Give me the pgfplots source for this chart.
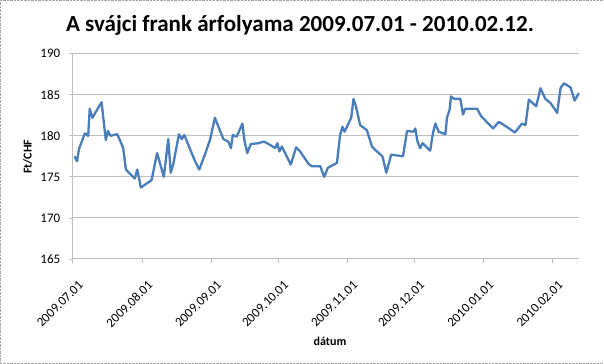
\documentclass[border=0pt]{standalone}
\usepackage{pgfplots}
\pgfplotsset{compat=1.18}
\usepackage{fontspec}
\setmainfont{Carlito}
\definecolor{linecol}{RGB}{74,126,187}
\definecolor{gridcol}{RGB}{190,190,190}
\begin{document}
\begin{tikzpicture}[x=1pt,y=1pt]
\draw[gray!70, densely dotted] (0.5,0.5) rectangle (603.5,363.5);
\node[font=\fontsize{23}{26}\selectfont\bfseries] at (300,338) {A svájci frank árfolyama 2009.07.01 - 2010.02.12.};
\node[font=\fontsize{12}{14}\selectfont\bfseries, rotate=90] at (28,207) {Ft/CHF};
\node[font=\fontsize{12}{14}\selectfont\bfseries] at (330,23) {dátum};
\begin{axis}[
  at={(73pt,105pt)}, anchor=south west,
  scale only axis, width=506pt, height=205pt,
  xmin=0, xmax=227, ymin=165, ymax=190,
  ytick={165,170,...,190},
  xtick={0,31,62,92,123,153,184,215},
  xticklabels={2009.07.01,2009.08.01,2009.09.01,2009.10.01,2009.11.01,2009.12.01,2010.01.01,2010.02.01},
  axis x line=bottom, axis y line=left,
  axis line style={-, draw=gridcol, line width=1pt},
  tick style={draw=gridcol, line width=0.8pt},
  tick align=outside, major tick length=4pt,
  ymajorgrids, grid style={draw=gridcol, line width=1pt},
  ticklabel style={font=\fontsize{13}{15}\selectfont},
  /pgf/number format/assume math mode=true,
  yticklabel style={xshift=-5pt},
  xticklabel style={xshift=5pt, yshift=-12pt, rotate=45, anchor=north east},
  clip=false,
]
\addplot[color=linecol, line width=2.3pt, line join=round] coordinates {
(0.8,177.5) (1.9,176.9) (2.8,178.4) (5.4,180.3) (6.9,180.0) (7.6,183.3) (8.8,182.2)
(12.9,184.1) (14.8,179.5) (15.8,180.6) (16.9,180.0) (19.9,180.2) (21.1,179.5)
(22.6,178.5) (23.8,175.9) (27.8,174.8) (28.9,175.9) (30.5,173.7) (35.3,174.6)
(37.8,177.9) (40.8,175.0) (42.8,179.6) (43.9,175.5) (45.0,176.5) (47.6,180.2)
(48.8,179.6) (50.0,180.1) (54.8,176.9) (56.7,175.9) (59.2,177.7) (61.5,179.5)
(63.7,182.2) (67.5,179.6) (69.7,179.3) (70.9,178.5) (71.7,180.1) (73.5,179.9)
(76.0,181.5) (76.9,179.5) (78.2,177.9) (79.8,179.0) (83.2,179.1) (85.7,179.3)
(88.4,178.9) (90.7,178.5) (91.7,179.1) (92.6,178.1) (93.7,178.7) (97.7,176.5)
(100.1,178.6) (101.9,178.1) (105.6,176.6) (107.1,176.3) (110.9,176.3) (112.7,175.0)
(114.3,176.1) (118.4,176.7) (119.8,180.1) (120.9,181.1) (121.8,180.5) (124.8,182.2)
(125.8,184.5) (126.9,183.6) (128.8,181.3) (131.8,180.7) (134.1,178.7) (135.5,178.3)
(138.8,177.5) (140.5,175.5) (142.7,177.7) (145.7,177.6) (148.0,177.5) (149.8,180.6)
(152.7,180.5) (153.5,180.9) (154.5,179.3) (155.7,178.5) (156.8,179.1) (160.2,178.2)
(161.4,180.3) (162.5,181.5) (164.0,180.5) (167.0,180.2) (167.7,182.2) (168.9,183.2)
(169.5,184.8) (171.0,184.5) (173.7,184.5) (174.9,182.6) (175.9,183.3) (181.2,183.3)
(183.0,182.4) (188.4,180.9) (190.9,181.7) (193.9,181.2) (196.1,180.8) (198.1,180.4)
(201.4,181.5) (202.9,181.3) (204.4,184.4) (207.7,183.6) (209.6,185.8) (211.8,184.5)
(214.1,184.0) (217.1,182.8) (218.6,185.8) (220.1,186.4) (223.1,185.9) (224.9,184.3)
(226.8,185.2)
};
\end{axis}
\end{tikzpicture}
\end{document}
